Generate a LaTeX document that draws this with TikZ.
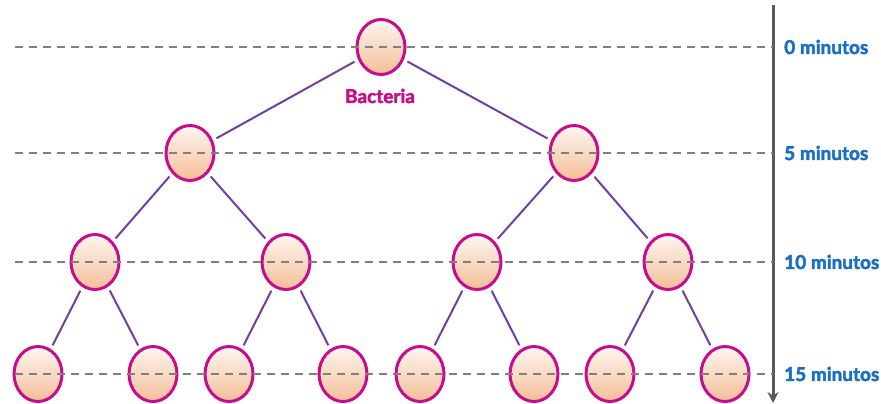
\documentclass[tikz,border=0pt]{standalone}
\usepackage{fontspec}
\setmainfont{Lato}
\newfontfamily\heavy{Lato}[BoldFeatures={FakeBold=2.4}]
\usetikzlibrary{shapes.geometric, arrows.meta}
\definecolor{cellrim}{HTML}{C70C8E}
\definecolor{cellfill}{HTML}{F4BE98}
\definecolor{linkcol}{HTML}{7040A0}
\definecolor{timecol}{HTML}{1A6FC4}
\definecolor{axiscol}{HTML}{5A5A5A}
\begin{document}
\begin{tikzpicture}[x=1pt, y=-1pt,
    cell/.style={ellipse, draw=cellrim, line width=3pt, top color=white!85!cellfill,
        bottom color=cellfill, minimum width=48, minimum height=55, inner sep=0},
    link/.style={draw=linkcol, line width=2pt, shorten <=4pt, shorten >=4pt},
    level/.style={draw=gray, line width=1.8pt, dash pattern=on 8pt off 6pt},
    tlabel/.style={anchor=west, inner sep=1pt, text=timecol, font=\heavy\bfseries\fontsize{19}{21}\selectfont}]
    \useasboundingbox (0,0) rectangle (881,404);
    \def \ya {47}
    \def \yb {153}
    \def \yc {262}
    \def \yd {374}
    % cells
    \node[cell] (1) at (381, \ya) {};
    \node[cell] (2) at (190, \yb) {};
    \node[cell] (3) at (574, \yb) {};
    \node[cell] (4) at (95, \yc) {};
    \node[cell] (5) at (286, \yc) {};
    \node[cell] (6) at (477, \yc) {};
    \node[cell] (7) at (668, \yc) {};
    \node[cell] (8) at (38, \yd) {};
    \node[cell] (9) at (153, \yd) {};
    \node[cell] (10) at (229, \yd) {};
    \node[cell] (11) at (343, \yd) {};
    \node[cell] (12) at (420, \yd) {};
    \node[cell] (13) at (534, \yd) {};
    \node[cell] (14) at (610, \yd) {};
    \node[cell] (15) at (725, \yd) {};
    \node[text=cellrim, font=\heavy\bfseries\fontsize{19}{20}\selectfont] (name) at (380, 96) {Bacteria};
    % divisions
    \draw[link] (1) -- (2);
    \draw[link] (1) -- (3);
    \draw[link] (2) -- (4);
    \draw[link] (2) -- (5);
    \draw[link] (3) -- (6);
    \draw[link] (3) -- (7);
    \draw[link] (4) -- (8);
    \draw[link] (4) -- (9);
    \draw[link] (5) -- (10);
    \draw[link] (5) -- (11);
    \draw[link] (6) -- (12);
    \draw[link] (6) -- (13);
    \draw[link] (7) -- (14);
    \draw[link] (7) -- (15);
    % time axis
    \coordinate (top) at (773, 5);
    \coordinate (bot) at (773, 403);
    \draw[axiscol, line width=3pt, -{Stealth[length=11pt, width=11pt]}] (top) -- (bot);
    \node[tlabel] (t0) at (783, \ya) {0 minutos};
    \node[tlabel] (t1) at (783, \yb) {5 minutos};
    \node[tlabel] (t2) at (783, \yc) {10 minutos};
    \node[tlabel] (t3) at (783, \yd) {15 minutos};
    % levels
    \coordinate (l0) at (15, \ya);
    \coordinate (l1) at (15, \yb);
    \coordinate (l2) at (15, \yc);
    \coordinate (l3) at (15, \yd);
    \draw[level] (l0) -- (top |- l0);
    \draw[level] (l1) -- (top |- l1);
    \draw[level] (l2) -- (top |- l2);
    \draw[level] (l3) -- (top |- l3);
\end{tikzpicture}
\end{document}
